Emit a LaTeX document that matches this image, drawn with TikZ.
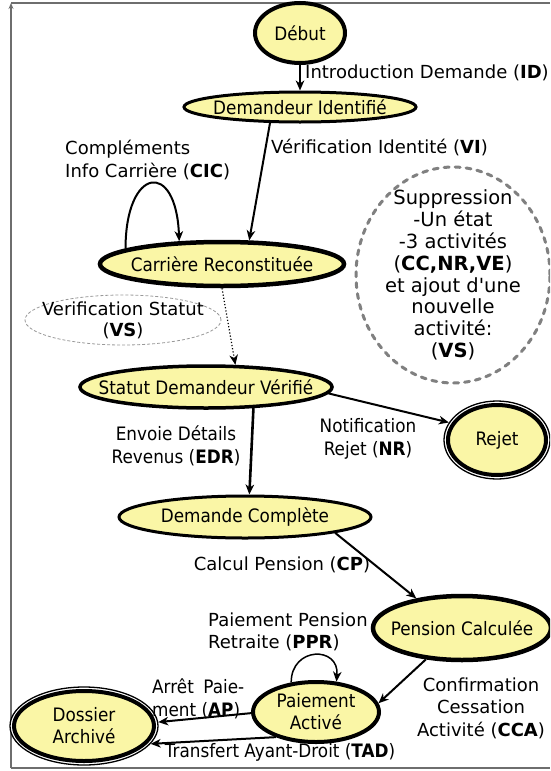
\documentclass[tikz,border=0pt]{standalone}
\usepackage{fontspec}
\setmainfont{DejaVu Sans}[Ligatures=TeXOff]
\newfontfamily\condfont{DejaVu Sans}[FakeStretch=0.91,Ligatures=TeXOff]
\usetikzlibrary{arrows.meta,shapes.geometric}

\definecolor{stfill}{RGB}{250,246,166}
\definecolor{framegray}{RGB}{110,110,110}
\definecolor{notegray}{RGB}{128,128,128}

% text that does not widen the ellipse around it
\newcommand\zw[1]{\makebox[0pt]{#1}}

\tikzset{
  x=1pt, y=1pt,
  state/.style={ellipse, draw=black, fill=stfill, inner sep=0pt, align=center,
    font=\condfont\fontsize{18.5}{22}\selectfont},
  lbl/.style={inner sep=0pt, align=center, font=\fontsize{18}{22.5}\selectfont},
  clbl/.style={inner sep=0pt, align=center, font=\condfont\fontsize{18.5}{22.5}\selectfont},
  tip/.tip={Stealth[length=10pt,width=8.5pt,inset=3pt]},
  edge/.style={-tip, line width=2pt},
}

\begin{document}
\begin{tikzpicture}
\useasboundingbox (0,0) rectangle (550,-771);
\clip (0,0) rectangle (550,-771);

% frame
\coordinate (fbl) at (11,-768);
\coordinate (ftl) at (11,-3);
\coordinate (ftr) at (550,-3);
\coordinate (fbr) at (550,-768);
\draw[framegray, line width=1.3pt] (ftl) -- (ftr);
\draw[framegray, line width=1.3pt] (fbl) -- (fbr);
\draw[framegray, line width=1.3pt, -{Stealth[length=6pt,width=5pt]}] (fbl) -- (ftl);

% states
\node[state, line width=4pt, minimum width=90pt, minimum height=60pt] (debut) at (300,-33) {\zw{Début}};
\node[state, line width=3pt, minimum width=232pt, minimum height=30pt] (ident) at (300,-107) {\zw{Demandeur Identifié}};
\node[state, line width=4.5pt, minimum width=244pt, minimum height=44pt] (carr) at (222,-264) {\zw{Carrière Reconstituée}};
\node[state, line width=3.5pt, minimum width=252pt, minimum height=42pt] (statut) at (206,-387) {\zw{Statut Demandeur Vérifié}};
\node[state, line width=3pt, minimum width=252pt, minimum height=42pt] (complete) at (245,-517) {\zw{Demande Complète}};
\node[state, line width=4.5pt, minimum width=178pt, minimum height=64pt] (pension) at (462,-628) {\zw{Pension Calculée}};
\node[state, line width=4pt, minimum width=126pt, minimum height=60pt] (paiement) at (316,-712) {Paiement\\Activé};

% final states (double outline)
\node[ellipse, draw=black, fill=white, line width=1.3pt, minimum width=106pt, minimum height=78pt] (rejet) at (497,-440) {};
\node[state, line width=4pt, minimum width=98pt, minimum height=70pt] (rejetin) at (rejet) {\zw{Rejet}};
\node[ellipse, draw=black, fill=white, line width=1.3pt, minimum width=148pt, minimum height=78pt] (dossier) at (84,-726) {};
\node[state, line width=4pt, minimum width=140pt, minimum height=70pt] (dossierin) at (dossier) {Dossier\\Archivé};

% annotations
\node[ellipse, draw=notegray, dash pattern=on 5pt off 6pt, line cap=round, line width=3pt,
  minimum width=194pt, minimum height=216pt] (note) at (453,-275) {};
\node[inner sep=0pt, align=center, font=\fontsize{19.5}{21.8}\selectfont] (notetext) at (note)
  {Suppression\\-Un état\\-3 activités\\(\textbf{CC,NR,VE})\\et ajout d'une\\nouvelle\\activité:\\(\textbf{VS})};
\node[ellipse, draw=notegray!80, dash pattern=on 3pt off 2pt, line width=0.8pt,
  minimum width=196pt, minimum height=50pt] (vs) at (123,-320) {};
\node[inner sep=0pt, align=center, font=\fontsize{18}{21}\selectfont] (vstext) at (vs)
  {Verification Statut\\(\textbf{VS})};

% transitions
\draw[edge, line width=1.5pt] (debut) -- (ident);
\draw[edge] (ident.208) -- (carr.41);
\draw[edge] (carr.171) .. controls +(0,82) and +(-3,82) .. (carr.152);
\draw[-tip, dotted, line width=1.2pt] (carr.270) -- (statut.37);
\draw[edge] (statut.-3) -- (rejet.160);
\draw[edge, line width=2.6pt] (statut.-24.6) -- (complete.79);
\draw[edge] (complete.-10) -- (pension.147);
\draw[edge] (pension.221) -- (paiement.8);
\draw[edge, line width=1.5pt] (paiement.130) .. controls +(0,36) and +(3,36) .. (paiement.56);
\draw[edge] (paiement.181) -- (dossier.3);
\draw[edge] (paiement.212) -- (dossier.-15);

% transition labels
\node[lbl, anchor=west] (idl) at (305,-73) {Introduction Demande (\textbf{ID})};
\node[lbl, anchor=west] (vil) at (271,-147) {Vérification Identité (\textbf{VI})};
\node[lbl, align=left, anchor=west] (cicl) at (65,-160) {Compléments\\Info Carrière (\textbf{CIC})};
\node[clbl] (edrl) at (176,-446) {Envoie Détails\\Revenus (\textbf{EDR})};
\node[clbl] (nrl) at (368,-439) {Notification\\Rejet (\textbf{NR})};
\node[lbl] (cpl) at (282,-565) {Calcul Pension (\textbf{CP})};
\node[lbl, align=left, anchor=west] (pprl) at (208,-632) {Paiement Pension\\Retraite (\textbf{PPR})};
\node[lbl] (ccal) at (481,-708) {Confirmation\\Cessation\\Activité (\textbf{CCA})};
\node[clbl, align=left, anchor=west] (apl) at (152,-699) {\makebox[92pt][s]{Arrêt Paie-}\\ment (\textbf{AP})};
\node[clbl] (tadl) at (280,-752) {Transfert Ayant-Droit (\textbf{TAD})};
\end{tikzpicture}
\end{document}
